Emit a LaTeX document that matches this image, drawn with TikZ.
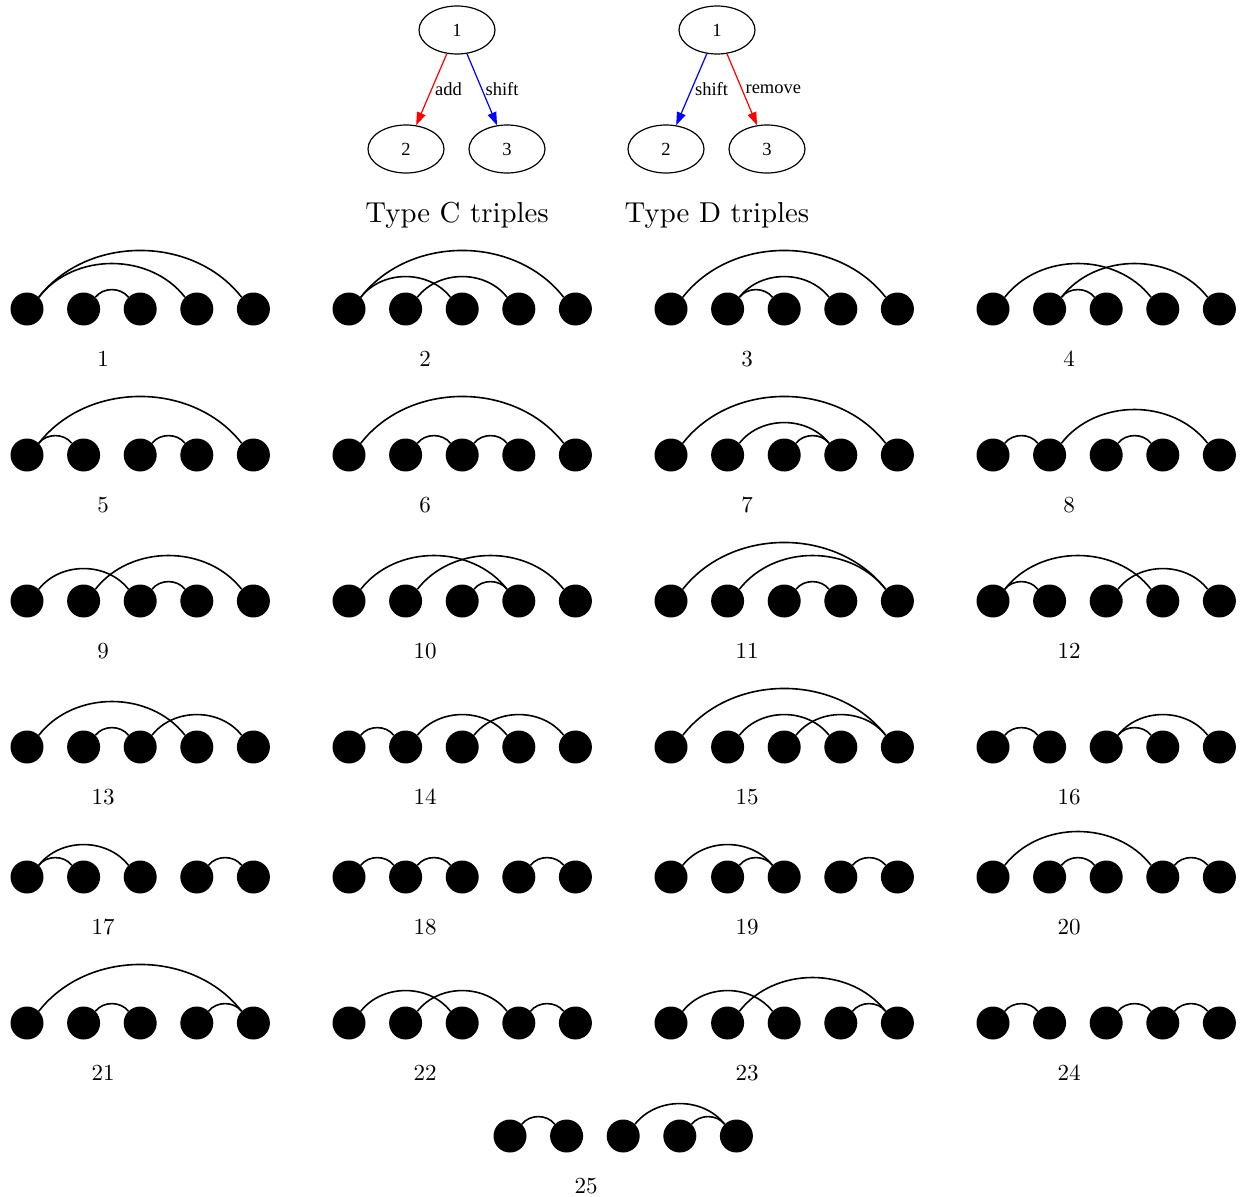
\documentclass[tikz,border=0pt]{standalone}
\usepackage{fontspec}
\newfontfamily\gvfont{Liberation Serif}
\newfontfamily\lmten{lmroman10-regular.otf}
\usetikzlibrary{shapes.geometric,arrows.meta}
\newcommand\chaindiag[4]{%
  \foreach \i in {1,...,5} {\node[dot] (d#1-\i) at ({#2+(\i-1)*56.6},#3) {};}
  \node[lab] (l#1) at ({#2+76},{#3-57}) {#1};
  \foreach \a/\b in {#4} {\draw[arcline] (d#1-\a.45) to[bend left=52] (d#1-\b.135);}
}
\begin{document}
\begin{tikzpicture}[x=1pt,y=1pt,
  dot/.style={circle,fill=black,minimum size=33pt,inner sep=0pt},
  arcline/.style={line width=1.6pt},
  lab/.style={anchor=base,font=\lmten\fontsize{23}{28}\selectfont},
  gv/.style={ellipse,draw,line width=1.2pt,minimum width=76pt,minimum height=48pt,inner sep=0pt,font=\gvfont\fontsize{18.5}{22}\selectfont},
  gvedge/.style={line width=1.2pt,-{Triangle[length=13pt,width=9pt]}},
  gvlab/.style={font=\gvfont\fontsize{18.5}{22}\selectfont,text=black,anchor=west,inner sep=0pt,xshift=3pt},
  title/.style={anchor=base,font=\lmten\fontsize{28.8}{34}\selectfont}]
\useasboundingbox (0,0) rectangle (1243,-1197);

% Type C
\node[gv] (c1) at (457,-30) {1};
\node[gv] (c2) at (406,-149) {2};
\node[gv] (c3) at (507,-149) {3};
\draw[gvedge,red] (c1) -- node[gvlab,pos=0.5] {add} (c2);
\draw[gvedge,blue] (c1) -- node[gvlab,pos=0.5] {shift} (c3);
\node[title] (tc) at (457,-222) {Type C triples};

% Type D
\node[gv] (e1) at (717,-30) {1};
\node[gv] (e2) at (666,-149) {2};
\node[gv] (e3) at (767,-149) {3};
\draw[gvedge,blue] (e1) -- node[gvlab,pos=0.5] {shift} (e2);
\draw[gvedge,red] (e1) -- node[gvlab,pos=0.5] {remove} (e3);
\node[title] (td) at (717,-222) {Type D triples};

% row 1
\chaindiag{1}{27}{-309}{1/5,1/4,2/3}
\chaindiag{2}{349}{-309}{1/5,1/3,2/4}
\chaindiag{3}{671}{-309}{1/5,2/4,2/3}
\chaindiag{4}{993}{-309}{1/4,2/5,2/3}
% row 2
\chaindiag{5}{27}{-455}{1/5,1/2,3/4}
\chaindiag{6}{349}{-455}{1/5,2/3,3/4}
\chaindiag{7}{671}{-455}{1/5,2/4,3/4}
\chaindiag{8}{993}{-455}{1/2,2/5,3/4}
% row 3
\chaindiag{9}{27}{-601}{1/3,2/5,3/4}
\chaindiag{10}{349}{-601}{1/4,2/5,3/4}
\chaindiag{11}{671}{-601}{1/5,2/5,3/4}
\chaindiag{12}{993}{-601}{1/4,1/2,3/5}
% row 4
\chaindiag{13}{27}{-747}{1/4,2/3,3/5}
\chaindiag{14}{349}{-747}{1/2,2/4,3/5}
\chaindiag{15}{671}{-747}{1/5,2/4,3/5}
\chaindiag{16}{993}{-747}{1/2,3/5,3/4}
% row 5
\chaindiag{17}{27}{-877}{1/3,1/2,4/5}
\chaindiag{18}{349}{-877}{1/2,2/3,4/5}
\chaindiag{19}{671}{-877}{1/3,2/3,4/5}
\chaindiag{20}{993}{-877}{1/4,2/3,4/5}
% row 6
\chaindiag{21}{27}{-1023}{1/5,2/3,4/5}
\chaindiag{22}{349}{-1023}{1/3,2/4,4/5}
\chaindiag{23}{671}{-1023}{1/3,2/5,4/5}
\chaindiag{24}{993}{-1023}{1/2,3/4,4/5}
% row 7
\chaindiag{25}{510}{-1136}{1/2,3/5,4/5}
\end{tikzpicture}
\end{document}
